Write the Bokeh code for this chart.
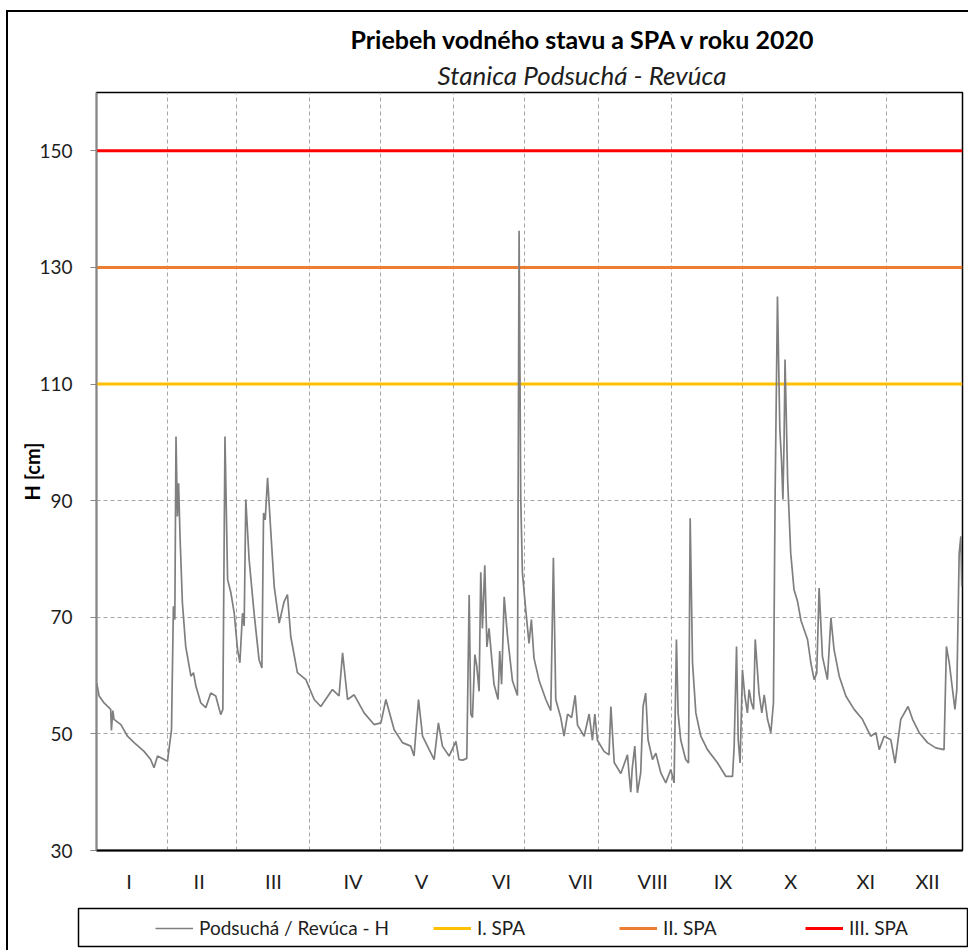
from bokeh.plotting import figure
from bokeh.layouts import column
from bokeh.models import Range1d, FixedTicker, Legend, LegendItem, Title
from bokeh.embed import file_html
from bokeh.resources import INLINE

# ---------------- data ----------------
TITLE = "Priebeh vodného stavu a SPA v roku 2020"
SUBTITLE = "Stanica Podsuchá - Revúca"
Y_LABEL = "H [cm]"
SERIES_NAME = "Podsuchá / Revúca - H"

MONTH_LABELS = ["I", "II", "III", "IV", "V", "VI", "VII", "VIII", "IX", "X", "XI", "XII"]
MONTH_LABEL_DAYS = [14.8, 44.4, 75.8, 109.4, 138.4, 172.2, 205.7, 236.1, 265.8, 294.4, 326.1, 352.2]
MONTH_END_DAYS = [31, 60, 91, 121, 152, 182, 213, 244, 274, 305, 335]
X_START, X_END = 1, 367
Y_TICKS = [30, 50, 70, 90, 110, 130, 150]

SPA_NAMES = ["I. SPA", "II. SPA", "III. SPA"]
SPA_LEVELS = [110, 130, 150]
SPA_COLORS = ["#FFC000", "#ED7D31", "#FF0000"]

DAYS = [1.1, 2.1, 4.2, 7.0, 7.3, 7.9, 8.4, 11.3, 14.1, 16.9, 21.1, 23.9, 25.3, 26.8, 31.0, 32.0, 32.7,
        33.5, 34.1, 34.6, 35.2, 35.7, 36.3, 37.3, 38.7, 40.9, 42.0, 43.0, 45.1, 47.2, 49.3, 51.4,
        53.5, 54.4, 55.3, 56.4, 57.8, 59.2, 60.6, 61.6, 62.7, 63.4, 64.1, 65.5, 67.6, 69.7, 70.9,
        71.6, 72.3, 73.3, 74.7, 76.1, 78.2, 80.3, 81.7, 83.1, 85.9, 89.5, 93.0, 95.8, 100.7, 103.5,
        105.0, 107.1, 109.9, 114.1, 118.3, 121.2, 123.3, 126.8, 130.3, 133.8, 135.2, 137.1, 138.8,
        141.6, 143.7, 145.5, 147.2, 150.0, 152.9, 154.2, 155.8, 157.5, 158.5, 159.2, 159.9, 160.9,
        161.7, 162.7, 163.4, 164.1, 165.1, 166.0, 166.9, 169.0, 170.7, 171.4, 172.2, 173.3, 174.7,
        176.8, 178.9, 179.6, 180.3, 181.0, 182.4, 183.8, 184.8, 185.9, 188.1, 190.9, 193.0, 194.1,
        195.1, 197.2, 198.6, 200.1, 201.8, 203.3, 204.3, 207.1, 209.2, 210.6, 211.6, 212.7, 215.5,
        217.6, 218.4, 219.8, 222.6, 225.4, 226.0, 226.8, 227.4, 228.5, 229.6, 231.0, 232.0, 233.1,
        234.1, 236.0, 237.4, 239.5, 241.6, 243.7, 245.1, 246.1, 246.8, 247.9, 250.0, 251.2, 251.9,
        252.9, 254.3, 256.4, 259.2, 263.5, 267.0, 269.8, 270.5, 271.5, 272.2, 273.0, 274.0, 275.0,
        276.1, 276.8, 277.8, 278.7, 279.4, 281.0, 282.2, 283.2, 284.6, 286.0, 287.1, 287.8, 288.8,
        289.8, 290.5, 291.1, 291.6, 292.0, 293.1, 294.4, 295.8, 297.3, 298.7, 301.5, 302.9, 304.3,
        305.4, 306.4, 307.8, 309.9, 311.4, 312.7, 314.9, 317.7, 321.2, 324.7, 328.2, 330.4, 331.8,
        333.9, 336.7, 338.5, 340.9, 344.0, 345.9, 348.7, 352.2, 355.7, 359.2, 360.2, 361.4, 363.8,
        364.6, 365.6, 366.3, 366.7]

H_CM = [58.7, 56.5, 55.3, 54.2, 50.6, 54.0, 52.5, 51.6, 49.6, 48.5, 47.0, 45.6, 44.2, 46.2, 45.3, 48.5, 50.7,
        71.9, 69.6, 101.0, 87.3, 93.0, 83.9, 72.5, 65.0, 59.9, 60.5, 58.2, 55.3, 54.5, 57.0, 56.5,
        53.3, 54.2, 101.0, 76.5, 74.2, 70.7, 64.5, 62.2, 70.7, 68.5, 90.2, 79.9, 70.7, 62.7, 61.3,
        87.9, 86.7, 93.9, 84.5, 75.3, 69.0, 72.7, 73.9, 66.7, 60.5, 59.3, 55.9, 54.7, 57.6, 56.5,
        63.9, 55.9, 56.7, 53.6, 51.6, 51.9, 55.9, 50.7, 48.5, 47.9, 46.2, 55.9, 49.6,
        47.3, 45.6, 51.9, 47.9, 46.2, 48.7, 45.6, 45.5, 45.8, 73.8, 53.4, 52.8, 63.6,
        61.7, 57.3, 77.7, 68.1, 78.9, 64.9, 68.1, 58.5, 55.9, 64.2, 58.5, 73.5, 66.8,
        59.1, 56.6, 136.3, 90.4, 77.7, 71.3, 65.5, 69.6, 63.0, 59.1, 55.9, 54.0, 80.2,
        55.9, 52.8, 49.6, 53.4, 52.8, 56.6, 51.5, 49.6, 53.4, 48.9, 53.4, 48.9, 47.0,
        46.4, 54.7, 45.1, 43.2, 46.4, 43.5, 40.0, 44.0, 47.9, 39.9, 43.3, 54.7, 57.0,
        49.0, 45.6, 46.7, 43.3, 41.6, 43.9, 41.6, 66.2, 53.6, 49.0, 45.6, 45.0, 87.0,
        62.2, 53.6, 49.6, 47.3, 45.0, 42.7, 42.7, 47.9, 65.0, 49.0, 45.0, 61.0, 56.5,
        53.6, 57.6, 55.3, 54.2, 66.2, 57.0, 53.6, 56.7, 52.5, 50.2, 55.3, 90.7, 125.0,
        102.2, 97.0, 90.2, 100.5, 114.2, 93.6, 81.0, 74.7, 72.7, 69.5, 66.2, 62.2, 59.3,
        60.4, 75.0, 63.3, 59.3, 69.9, 64.5, 59.9, 56.5, 54.2, 52.5, 49.6, 50.2, 47.3,
        49.6, 49.0, 45.0, 52.5, 54.7, 52.5, 50.2, 48.5, 47.6, 47.3, 65.0, 62.2, 54.2,
        57.6, 81.0, 83.9, 75.3]

# ---------------- style ----------------
FONT = "Lato"
TEXT_COLOR = "#1e1e1e"
GRID_COLOR = "#a6a6a6"
SERIES_COLOR = "#7f7f7f"
SERIES_WIDTH = 1.7
SPA_WIDTH = 3

# ---------------- main chart ----------------
p = figure(width=960, height=883, title=None,
           x_range=Range1d(X_START, X_END), y_range=Range1d(30, 160),
           output_backend="svg", toolbar_location=None,
           min_border_left=88, min_border_right=6, min_border_top=80, min_border_bottom=44,
           background_fill_color="white", border_fill_color="white")
p.frame_align = False
p.outline_line_color = "black"
p.outline_line_width = 1.5

# titles (subtitle first: closest to frame)
sub = Title(text=SUBTITLE, align="left", offset=341, text_font=FONT, text_font_size="26px",
            text_font_style="italic", text_color=TEXT_COLOR, standoff=3)
p.add_layout(sub, "above")
main = Title(text=TITLE, align="left", offset=254, text_font=FONT, text_font_size="25px",
             text_font_style="bold", text_color="black", standoff=3)
p.add_layout(main, "above")

# axes
xa = p.xaxis[0]
xa.ticker = FixedTicker(ticks=MONTH_LABEL_DAYS)
xa.major_label_overrides = {d: lab for d, lab in zip(MONTH_LABEL_DAYS, MONTH_LABELS)}
xa.major_tick_out = 0
xa.major_tick_in = 0
xa.minor_tick_out = 0
xa.minor_tick_in = 0
xa.axis_line_color = "black"
xa.axis_line_width = 2
xa.major_label_text_font = FONT
xa.major_label_text_font_size = "20px"
xa.major_label_text_color = TEXT_COLOR
xa.major_label_standoff = 18

ya = p.yaxis[0]
ya.ticker = FixedTicker(ticks=Y_TICKS)
ya.axis_line_color = "#868686"
ya.axis_line_width = 1.5
ya.major_tick_out = 6
ya.major_tick_in = 0
ya.minor_tick_out = 0
ya.minor_tick_in = 0
ya.major_tick_line_color = "#868686"
ya.major_label_standoff = 18
ya.major_label_text_font = FONT
ya.major_label_text_font_size = "19px"
ya.major_label_text_color = TEXT_COLOR
ya.axis_label = Y_LABEL
ya.axis_label_text_font = FONT
ya.axis_label_text_font_size = "20px"
ya.axis_label_text_font_style = "bold"
ya.axis_label_text_color = "black"
ya.axis_label_standoff = -8

# grids
p.xgrid.ticker = FixedTicker(ticks=MONTH_END_DAYS)
for g in (p.xgrid[0], p.ygrid[0]):
    g.grid_line_color = GRID_COLOR
    g.grid_line_dash = "4 3"
    g.grid_line_width = 1

# SPA levels
for lvl, col in zip(SPA_LEVELS, SPA_COLORS):
    p.line(x=[X_START, X_END], y=[lvl, lvl], line_color=col, line_width=SPA_WIDTH)

# water level series
p.line(DAYS, H_CM, line_color=SERIES_COLOR, line_width=SERIES_WIDTH)

# ---------------- legend strip (its frame is the legend box) ----------------
lg = figure(width=960, height=55, x_range=Range1d(-2, -1), y_range=Range1d(-2, -1),
            x_axis_type=None, y_axis_type=None, title=None,
            output_backend="svg", toolbar_location=None,
            min_border_left=70, min_border_right=1, min_border_top=13, min_border_bottom=4,
            background_fill_color="white", border_fill_color="white")
lg.frame_align = False
lg.outline_line_color = "black"
lg.outline_line_width = 1.5

# key renderers: same series/levels, drawn outside this strip's (empty) view
key_h = lg.line(DAYS, H_CM, line_color=SERIES_COLOR, line_width=SERIES_WIDTH)
key_spa = [lg.line(x=[X_START, X_END], y=[lvl, lvl], line_color=col, line_width=SPA_WIDTH)
           for lvl, col in zip(SPA_LEVELS, SPA_COLORS)]

items = [LegendItem(label=SERIES_NAME, renderers=[key_h])]
for name, r in zip(SPA_NAMES, key_spa):
    items.append(LegendItem(label=name, renderers=[r]))

legend = Legend(items=items, orientation="horizontal", location=(77, 7),
                padding=0, spacing=44, label_width=98, glyph_width=38, glyph_height=20,
                label_standoff=6, margin=0,
                label_text_font=FONT, label_text_font_size="19px", label_text_color=TEXT_COLOR,
                border_line_color=None, background_fill_alpha=0)
lg.add_layout(legend, "center")

layout = column(p, lg, spacing=0)
layout.styles = {"margin-left": "6px", "margin-top": "10px",
                 "border-top": "2px solid black", "border-left": "2px solid black"}

open("out.html", "w").write(file_html(layout, INLINE))
